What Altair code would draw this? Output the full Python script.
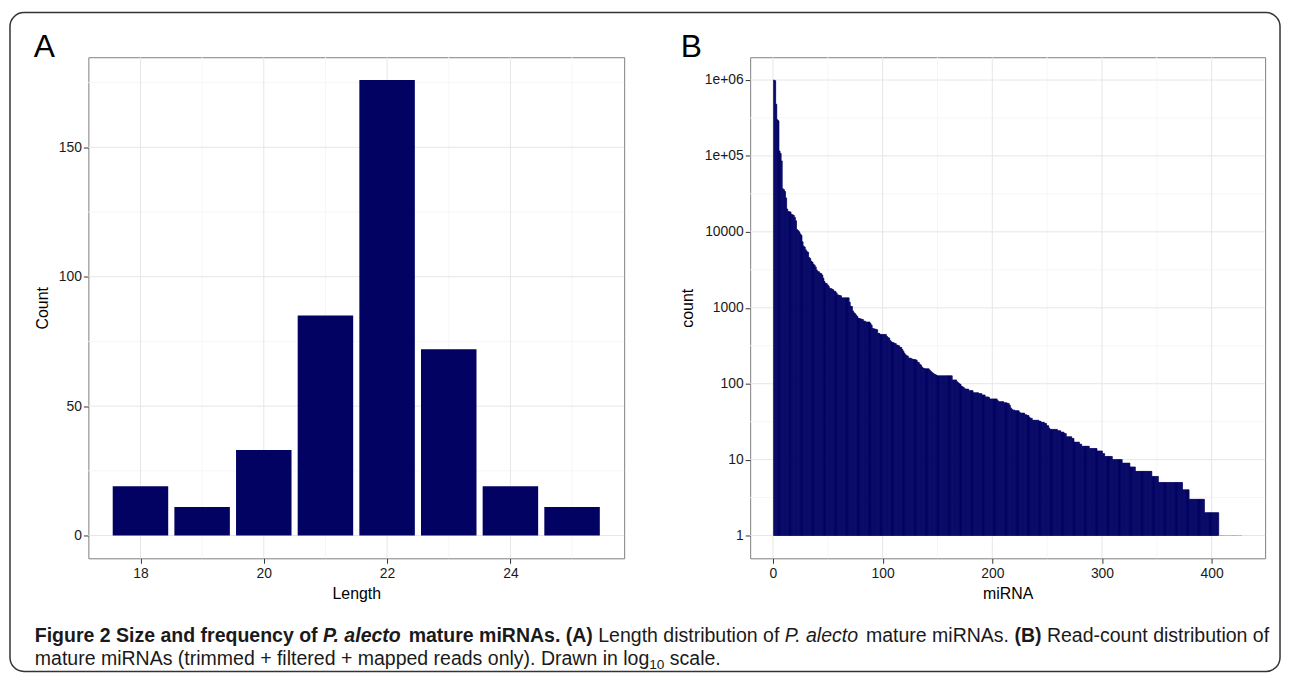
import altair as alt
import pandas as pd

# ---------------- data ----------------
lengths = [18, 19, 20, 21, 22, 23, 24, 25]
length_counts = [19, 11, 33, 85, 176, 72, 19, 11]

mirna_counts = [
    1000000, 980000, 480000, 300000, 290000, 116000, 108000, 86000, 37000, 36000,
    34000, 28000, 20000, 18500, 18400, 18300, 17000, 16800, 16500, 15500,
    14000, 10700, 10400, 10000, 9400, 9000, 7400, 6500, 6300, 5800,
    5500, 5400, 4600, 4450, 4100, 4000, 3760, 3650, 3450, 3150,
    3000, 2980, 2850, 2830, 2700, 2450, 2220, 2100, 2080, 2000,
    1900, 1800, 1790, 1760, 1730, 1650, 1640, 1570, 1480, 1470,
    1450, 1440, 1350, 1350, 1350, 1350, 1350, 1350, 1350, 1180,
    1050, 1040, 910, 860, 835, 800, 765, 725, 720, 715,
    705, 700, 670, 665, 650, 650, 650, 650, 620, 590,
    535, 530, 525, 520, 513, 460, 460, 445, 445, 445,
    445, 445, 445, 420, 405, 400, 370, 357, 350, 347,
    340, 337, 323, 320, 315, 302, 300, 282, 268, 252,
    240, 235, 230, 218, 218, 215, 211, 209, 208, 207,
    205, 193, 190, 180, 176, 166, 161, 158, 157, 157,
    157, 157, 151, 146, 141, 138, 134, 132, 130, 127,
    127, 127, 127, 127, 127, 127, 127, 127, 127, 127,
    127, 127, 127, 112, 112, 112, 112, 106, 103, 100,
    98, 93, 91, 89, 86, 85, 85, 85, 81, 81,
    81, 81, 76, 76, 76, 76, 76, 74, 74, 74,
    71, 71, 71, 67, 67, 67, 66, 63, 63, 63,
    63, 63, 63, 63, 60, 58, 58, 58, 58, 58,
    56, 56, 56, 55, 55, 52, 48, 46, 45, 45,
    44, 44, 44, 44, 42, 41, 41, 41, 41, 39,
    39, 38, 38, 36, 35, 35, 33, 33, 33, 33,
    33, 33, 32, 32, 31, 31, 31, 30, 30, 28,
    28, 26, 25, 25, 25, 25, 25, 25, 25, 24,
    24, 24, 23, 23, 23, 22, 22, 20, 20, 20,
    20, 20, 19, 19, 17, 17, 17, 17, 17, 16,
    16, 15, 15, 15, 15, 15, 15, 15, 14, 14,
    14, 14, 14, 14, 14, 13, 13, 13, 13, 13,
    12, 12, 11, 11, 11, 11, 11, 11, 11, 10,
    10, 10, 10, 10, 10, 10, 10, 10, 9, 9,
    9, 9, 9, 9, 9, 8, 8, 8, 8, 8,
    7, 7, 7, 7, 7, 7, 7, 7, 7, 7,
    7, 7, 7, 7, 7, 6, 6, 6, 6, 6,
    6, 5, 5, 5, 5, 5, 5, 5, 5, 5,
    5, 5, 5, 5, 5, 5, 5, 5, 5, 5,
    5, 5, 5, 4, 4, 4, 4, 4, 4, 3,
    3, 3, 3, 3, 3, 3, 3, 3, 3, 3,
    3, 3, 3, 2, 2, 2, 2, 2, 2, 2,
    2, 2, 2, 2, 2, 2, 1, 1, 1, 1,
    1, 1, 1, 1, 1, 1, 1, 1, 1, 1,
    1, 1, 1, 1, 1, 1, 1,
]
mirna_index = list(range(1, len(mirna_counts) + 1))

a_x_ticks = [18, 20, 22, 24]
a_x_minor = [19, 21, 23, 25]
a_y_ticks = [0, 50, 100, 150]
a_y_minor = [25, 75, 125, 175]

b_x_ticks = [0, 100, 200, 300, 400]
b_x_minor = [50, 150, 250, 350]
b_y_ticks = [1, 10, 100, 1000, 10000, 100000, 1000000]
b_y_minor = [3.162, 31.62, 316.2, 3162, 31623, 316228]

caption_line1 = [
    ("Figure 2 Size and frequency of ", "bold", "normal"),
    ("P. alecto", "bold", "italic"),
    (" mature miRNAs. (A)", "bold", "normal"),
    (" Length distribution of ", "normal", "normal"),
    ("P. alecto", "normal", "italic"),
    (" mature miRNAs. ", "normal", "normal"),
    ("(B)", "bold", "normal"),
    (" Read-count distribution of", "normal", "normal"),
]
caption_line2 = [
    ("mature miRNAs (trimmed + filtered + mapped reads only). Drawn in log", "normal", "normal", False),
    ("10", "normal", "normal", True),
    (" scale.", "normal", "normal", False),
]

# ---------------- style ----------------
NAVY = "#020263"
MAJOR = "#e6e6e6"
MINOR = "#f6f6f6"
FONT = "Liberation Sans"

# Arial-like advance widths (per 1000 em), for placing caption pieces
REG = {' ': 278, '(': 333, ')': 333, '+': 584, '.': 278, '-': 333, ',': 278}
for ch in "0123456789":
    REG[ch] = 556
REG.update({'A': 667, 'B': 667, 'C': 722, 'D': 722, 'E': 667, 'F': 611, 'L': 556,
            'M': 833, 'N': 722, 'P': 667, 'R': 722, 'S': 667})
REG.update({'a': 556, 'b': 556, 'c': 500, 'd': 556, 'e': 556, 'f': 278, 'g': 556,
            'h': 556, 'i': 222, 'j': 222, 'k': 500, 'l': 222, 'm': 833, 'n': 556,
            'o': 556, 'p': 556, 'q': 556, 'r': 333, 's': 500, 't': 278, 'u': 556,
            'v': 500, 'w': 722, 'x': 500, 'y': 500, 'z': 500})
BOLD = dict(REG)
BOLD.update({'A': 722, 'B': 722, 'L': 611, 'b': 611, 'c': 556, 'd': 611, 'f': 333,
             'g': 611, 'h': 611, 'i': 278, 'j': 278, 'k': 556, 'l': 278, 'm': 889,
             'n': 611, 'o': 611, 'p': 611, 'q': 611, 'r': 389, 's': 556, 't': 333,
             'u': 611, 'v': 556, 'w': 778, 'x': 556, 'y': 556})


def text_width(s, size, weight):
    table = BOLD if weight == "bold" else REG
    return sum(table.get(c, 556) for c in s) * size / 1000.0


# panel geometry (pixels)
A_W, B_W, H = 540, 519, 505
GAP = 127

# caption sizing: line 1 spans the frame width
CAP_X0 = -54
CAP_SIZE = 1244 * 1000.0 / sum(
    sum((BOLD if w == "bold" else REG).get(c, 556) for c in s) for s, w, _ in caption_line1)
CAP_Y1 = 589
CAP_Y2 = 613

dummy = pd.DataFrame({"k": [0]})

# ---------------- panel A ----------------
dfA = pd.DataFrame({"length": lengths, "count": length_counts})
xA = alt.Scale(domain=[17.155, 25.845], nice=False, zero=False)
yA = alt.Scale(domain=[-8.8, 184.8], nice=False, zero=False)
axAx = alt.Axis(values=a_x_ticks, title="Length", grid=False, domain=False,
                titlePadding=6, labelPadding=3)
axAy = alt.Axis(values=a_y_ticks, title="Count", grid=False, domain=False,
                titlePadding=8, labelPadding=2)

frame = alt.Chart(dummy).mark_rect(
    filled=False, stroke="#333333", strokeWidth=1.5, cornerRadius=14
).encode(x=alt.value(-79), x2=alt.value(1201), y=alt.value(-45), y2=alt.value(619))

a_vminor = alt.Chart(pd.DataFrame({"v": a_x_minor})).mark_rule(color=MINOR, strokeWidth=1).encode(
    x=alt.X("v:Q", scale=xA, axis=axAx))
a_hminor = alt.Chart(pd.DataFrame({"v": a_y_minor})).mark_rule(color=MINOR, strokeWidth=1).encode(
    y=alt.Y("v:Q", scale=yA, axis=axAy))
a_vmajor = alt.Chart(pd.DataFrame({"v": a_x_ticks})).mark_rule(color=MAJOR, strokeWidth=1).encode(
    x=alt.X("v:Q", scale=xA, axis=axAx))
a_hmajor = alt.Chart(pd.DataFrame({"v": a_y_ticks})).mark_rule(color=MAJOR, strokeWidth=1).encode(
    y=alt.Y("v:Q", scale=yA, axis=axAy))

barsA = alt.Chart(dfA).transform_calculate(
    x0="datum.length - 0.45", x1="datum.length + 0.45"
).mark_bar(color=NAVY).encode(
    x=alt.X("x0:Q", scale=xA, axis=axAx),
    x2="x1:Q",
    y=alt.Y("count:Q", scale=yA, axis=axAy),
    y2=alt.datum(0),
)

letterA = alt.Chart(dummy).mark_text(
    text="A", font=FONT, fontSize=32, align="left", baseline="alphabetic", color="black"
).encode(x=alt.value(-55), y=alt.value(0))

caption_layers = []
cx = CAP_X0
for s, w, st in caption_line1:
    lead = len(s) - len(s.lstrip(" "))
    caption_layers.append(alt.Chart(dummy).mark_text(
        text=s.strip(), font=FONT, fontSize=CAP_SIZE, fontWeight=w, fontStyle=st,
        align="left", baseline="alphabetic", color="#1a1a1a"
    ).encode(x=alt.value(cx + text_width(" " * lead, CAP_SIZE, w)), y=alt.value(CAP_Y1)))
    cx += text_width(s, CAP_SIZE, w)
cx = CAP_X0
for s, w, st, sub in caption_line2:
    size = CAP_SIZE * 0.7 if sub else CAP_SIZE
    lead = len(s) - len(s.lstrip(" "))
    caption_layers.append(alt.Chart(dummy).mark_text(
        text=s.strip(), font=FONT, fontSize=size, fontWeight=w, fontStyle=st,
        align="left", baseline="alphabetic", color="#1a1a1a"
    ).encode(x=alt.value(cx + text_width(" " * lead, size, w)),
             y=alt.value(CAP_Y2 + (4 if sub else 0))))
    cx += text_width(s, size, w)

panelA = alt.layer(
    frame, a_vminor, a_hminor, a_vmajor, a_hmajor, barsA, letterA, *caption_layers
).properties(width=A_W, height=H)

# ---------------- panel B ----------------
dfB = pd.DataFrame({"idx": mirna_index, "count": mirna_counts})
xB = alt.Scale(domain=[-20.8, 448.8], nice=False, zero=False)
yB = alt.Scale(type="log", domain=[0.5012, 1995262], nice=False, zero=False)
axBx = alt.Axis(values=b_x_ticks, title="miRNA", grid=False, domain=False,
                titlePadding=6, labelPadding=3)
axBy = alt.Axis(values=b_y_ticks, title="count", grid=False, domain=False,
                titlePadding=9, labelPadding=2,
                labelExpr="datum.value == 100000 ? '1e+05' : datum.value == 1000000 ? '1e+06' : format(datum.value, 'd')")

b_vminor = alt.Chart(pd.DataFrame({"v": b_x_minor})).mark_rule(color=MINOR, strokeWidth=1).encode(
    x=alt.X("v:Q", scale=xB, axis=axBx))
b_hminor = alt.Chart(pd.DataFrame({"v": b_y_minor})).mark_rule(color=MINOR, strokeWidth=1).encode(
    y=alt.Y("v:Q", scale=yB, axis=axBy))
b_vmajor = alt.Chart(pd.DataFrame({"v": b_x_ticks})).mark_rule(color=MAJOR, strokeWidth=1).encode(
    x=alt.X("v:Q", scale=xB, axis=axBx))
b_hmajor = alt.Chart(pd.DataFrame({"v": b_y_ticks})).mark_rule(color=MAJOR, strokeWidth=1).encode(
    y=alt.Y("v:Q", scale=yB, axis=axBy))

baseB = alt.Chart(dfB).transform_calculate(
    x0="datum.idx - 0.45", x1="datum.idx + 0.45"
)
barsB = baseB.transform_filter("datum.count > 1").mark_bar(
    color=NAVY, stroke=NAVY, strokeWidth=0.7
).encode(
    x=alt.X("x0:Q", scale=xB, axis=axBx),
    x2="x1:Q",
    y=alt.Y("count:Q", scale=yB, axis=axBy),
    y2=alt.datum(1),
)
onesB = baseB.transform_filter("datum.count <= 1").mark_rule(
    color="#a9a9d6", strokeWidth=1
).encode(
    x=alt.X("x0:Q", scale=xB, axis=axBx),
    x2="x1:Q",
    y=alt.Y("count:Q", scale=yB, axis=axBy),
)

letterB = alt.Chart(dummy).mark_text(
    text="B", font=FONT, fontSize=32, align="left", baseline="alphabetic", color="black"
).encode(x=alt.value(-70), y=alt.value(0))

panelB = alt.layer(
    b_vminor, b_hminor, b_vmajor, b_hmajor, barsB, onesB, letterB
).properties(width=B_W, height=H)

chart = alt.hconcat(panelA, panelB, spacing=GAP, bounds="flush").properties(
    padding=0
).configure_view(
    stroke="#7f7f7f", strokeWidth=1
).configure_axis(
    labelFont=FONT, labelFontSize=14, labelColor="#1a1a1a",
    titleFont=FONT, titleFontSize=16, titleColor="#000000", titleFontWeight="normal",
    tickColor="#333333", tickSize=5, tickWidth=1,
).configure_concat(spacing=GAP)

chart.save("out.html", embed_options={"renderer": "svg", "actions": False})
